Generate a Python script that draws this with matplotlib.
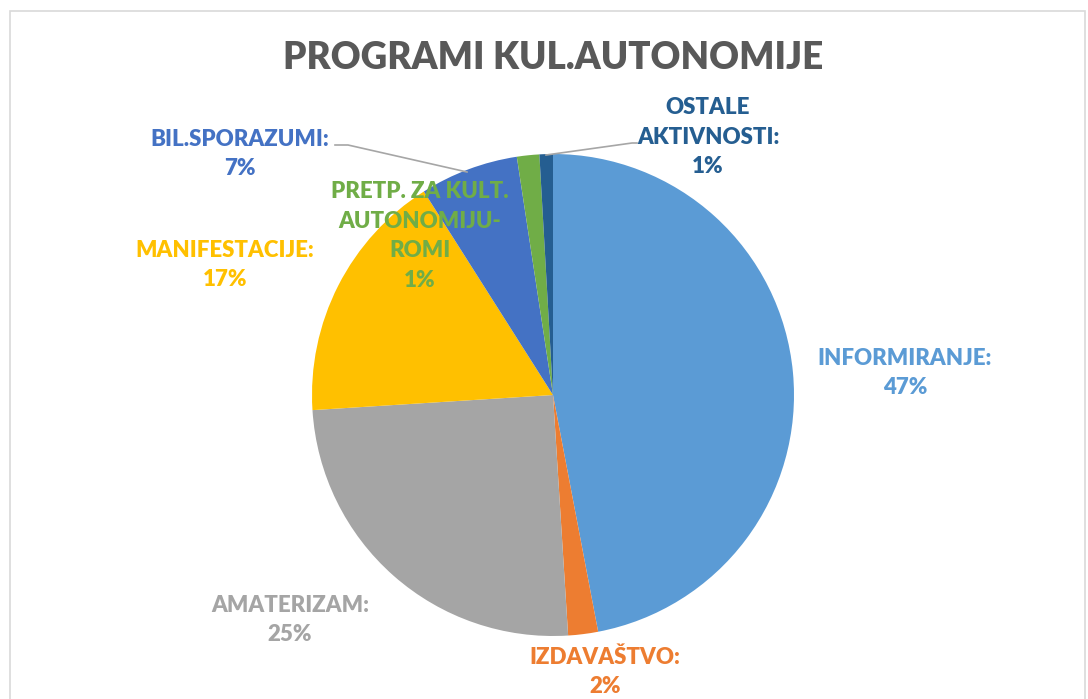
import matplotlib.pyplot as plt
from matplotlib.patches import Rectangle

plt.rcParams['font.family'] = ['Lato', 'DejaVu Sans']

# data
categories = ["INFORMIRANJE:", "IZDAVAŠTVO:", "AMATERIZAM:", "MANIFESTACIJE:",
              "BIL.SPORAZUMI:", "PRETP. ZA KULT.\nAUTONOMIJU-\nROMI", "OSTALE\nAKTIVNOSTI:"]
values = [47.0, 2.0, 25.0, 17.0, 6.6, 1.5, 0.9]
pct_labels = ["47%", "2%", "25%", "17%", "7%", "1%", "1%"]
colors = ["#5B9BD5", "#ED7D31", "#A5A5A5", "#FFC000", "#4472C4", "#70AD47", "#255E91"]
title = "PROGRAMI KUL.AUTONOMIJE"

W, H = 1088, 699
fig = plt.figure(figsize=(W / 100, H / 100), dpi=100)
ax = fig.add_axes([0, 0, 1, 1])

# chart frame
ax.add_patch(Rectangle((10, -20), 1075, H - 11 + 20, fill=False, ec="#D9D9D9", lw=1.2))

cx, cy, r = 553, H - 395, 241
ax.pie(values, colors=colors, startangle=90, counterclock=False,
       center=(cx, cy), radius=r, frame=True, wedgeprops=dict(linewidth=0))
ax.set_xlim(0, W)
ax.set_ylim(0, H)
ax.set_aspect('equal')
ax.axis('off')

ax.text(553, H - 58, title, ha='center', va='center', fontsize=26.5,
        fontweight='heavy', color="#595959")

# label positions (pixel coords, y from top)
label_pos = [(905, 373), (605, 672), (290, 620), (225, 265),
             (240, 154), (420, 236), (708, 137)]
for cat, pct, col, (x, y) in zip(categories, pct_labels, colors, label_pos):
    ax.text(x, H - y, cat + "\n" + pct, ha='center', va='center', fontsize=16,
            fontweight='heavy', color=col, linespacing=1.5)

# leader lines
ax.plot([335, 348, 467], [H - 145, H - 145, H - 172], color="#A6A6A6", lw=1.2)
ax.plot([546, 632, 637], [H - 155, H - 143, H - 143], color="#A6A6A6", lw=1.2)

fig.savefig("out.png", dpi=100)
